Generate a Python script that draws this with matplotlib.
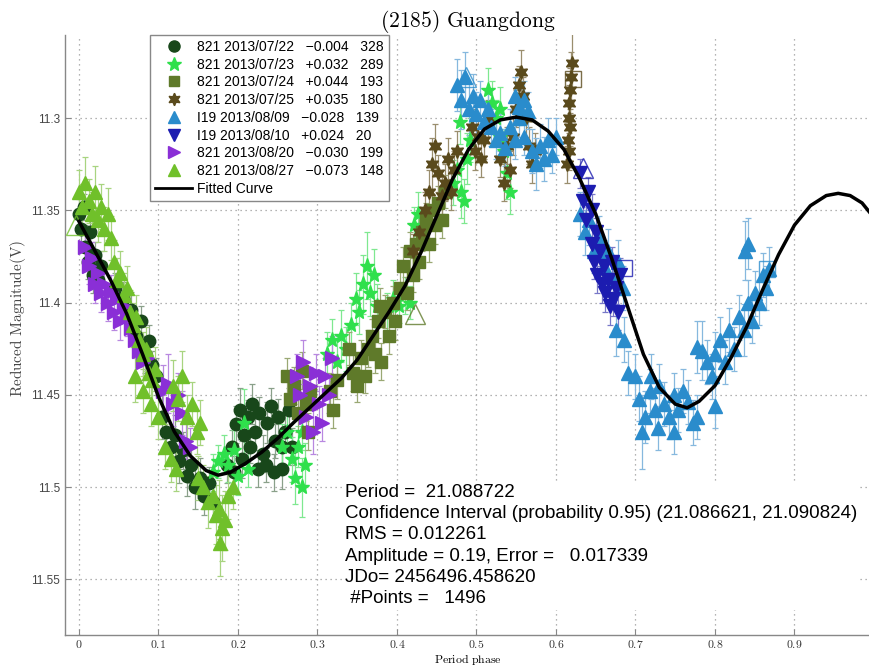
import matplotlib
matplotlib.use("Agg")
import matplotlib.pyplot as plt
from matplotlib.lines import Line2D

plt.rcParams["mathtext.fontset"] = "cm"

# ---------------- data (phase, reduced magnitude, error) ----------------
s0722 = [(0.000, 11.352, 0.008), (0.003, 11.360, 0.010), (0.006, 11.348, 0.007), (0.008, 11.370, 0.012),
         (0.011, 11.378, 0.009), (0.014, 11.362, 0.008), (0.017, 11.385, 0.010), (0.020, 11.374, 0.007),
         (0.024, 11.388, 0.009), (0.028, 11.380, 0.008), (0.045, 11.392, 0.008), (0.055, 11.398, 0.009),
         (0.065, 11.404, 0.010), (0.072, 11.418, 0.009), (0.078, 11.410, 0.008), (0.083, 11.428, 0.010),
         (0.088, 11.421, 0.009), (0.092, 11.434, 0.008), (0.097, 11.440, 0.010), (0.104, 11.462, 0.012),
         (0.110, 11.470, 0.010), (0.116, 11.478, 0.009), (0.121, 11.472, 0.011), (0.126, 11.486, 0.012),
         (0.131, 11.480, 0.010), (0.136, 11.494, 0.011), (0.141, 11.488, 0.010), (0.146, 11.500, 0.012),
         (0.152, 11.495, 0.011), (0.157, 11.505, 0.010), (0.163, 11.498, 0.009), (0.168, 11.508, 0.010),
         (0.186, 11.488, 0.010), (0.192, 11.478, 0.009), (0.198, 11.466, 0.010), (0.203, 11.458, 0.012),
         (0.208, 11.472, 0.010), (0.213, 11.462, 0.009), (0.218, 11.455, 0.011), (0.222, 11.470, 0.010),
         (0.227, 11.460, 0.009), (0.232, 11.482, 0.010), (0.236, 11.465, 0.011), (0.241, 11.456, 0.010),
         (0.246, 11.475, 0.009), (0.250, 11.462, 0.010), (0.255, 11.490, 0.011), (0.259, 11.470, 0.010),
         (0.264, 11.458, 0.012), (0.268, 11.478, 0.010), (0.195, 11.492, 0.009), (0.205, 11.485, 0.010),
         (0.215, 11.478, 0.009), (0.225, 11.490, 0.010), (0.235, 11.488, 0.009), (0.245, 11.492, 0.010),
         (0.255, 11.478, 0.009)]

s0723 = [(0.168, 11.492, 0.010), (0.175, 11.486, 0.009), (0.182, 11.482, 0.010), (0.188, 11.488, 0.009),
         (0.195, 11.480, 0.011), (0.200, 11.494, 0.010), (0.207, 11.465, 0.018), (0.213, 11.490, 0.010),
         (0.255, 11.478, 0.012), (0.262, 11.470, 0.010), (0.268, 11.485, 0.012), (0.272, 11.495, 0.014),
         (0.276, 11.478, 0.011), (0.280, 11.500, 0.016), (0.284, 11.488, 0.012), (0.280, 11.470, 0.010),
         (0.312, 11.428, 0.012), (0.318, 11.420, 0.011), (0.324, 11.432, 0.012), (0.330, 11.418, 0.014),
         (0.336, 11.425, 0.012), (0.342, 11.412, 0.012), (0.348, 11.398, 0.014), (0.352, 11.405, 0.012),
         (0.357, 11.390, 0.016), (0.362, 11.380, 0.018), (0.366, 11.395, 0.012), (0.371, 11.385, 0.014),
         (0.375, 11.402, 0.012), (0.388, 11.405, 0.010), (0.395, 11.398, 0.010), (0.402, 11.402, 0.009),
         (0.410, 11.396, 0.010), (0.416, 11.400, 0.009), (0.422, 11.358, 0.010), (0.426, 11.352, 0.012),
         (0.470, 11.335, 0.012), (0.476, 11.328, 0.012), (0.480, 11.340, 0.014), (0.484, 11.345, 0.012),
         (0.488, 11.322, 0.014), (0.492, 11.312, 0.012), (0.479, 11.302, 0.012), (0.515, 11.285, 0.012),
         (0.520, 11.292, 0.012), (0.525, 11.300, 0.010), (0.530, 11.295, 0.012), (0.534, 11.318, 0.012),
         (0.538, 11.330, 0.014), (0.542, 11.340, 0.012), (0.530, 11.310, 0.010)]

s0724 = [(0.262, 11.440, 0.010), (0.266, 11.452, 0.009), (0.270, 11.445, 0.010), (0.275, 11.460, 0.010),
         (0.280, 11.437, 0.010), (0.285, 11.455, 0.009), (0.290, 11.448, 0.010), (0.288, 11.470, 0.010),
         (0.316, 11.448, 0.010), (0.320, 11.458, 0.010), (0.325, 11.442, 0.010), (0.340, 11.425, 0.009),
         (0.345, 11.438, 0.010), (0.350, 11.445, 0.009), (0.355, 11.430, 0.010), (0.360, 11.440, 0.009),
         (0.363, 11.425, 0.010), (0.368, 11.418, 0.009), (0.372, 11.428, 0.010), (0.376, 11.410, 0.009),
         (0.380, 11.432, 0.010), (0.385, 11.405, 0.009), (0.390, 11.418, 0.010), (0.395, 11.400, 0.009),
         (0.398, 11.410, 0.010), (0.379, 11.402, 0.010), (0.404, 11.392, 0.009), (0.408, 11.380, 0.010),
         (0.412, 11.395, 0.009), (0.416, 11.372, 0.010), (0.420, 11.385, 0.009), (0.424, 11.368, 0.010),
         (0.428, 11.378, 0.009), (0.432, 11.362, 0.010), (0.436, 11.355, 0.009), (0.440, 11.368, 0.010),
         (0.444, 11.350, 0.009), (0.448, 11.358, 0.010), (0.452, 11.346, 0.009), (0.456, 11.355, 0.010),
         (0.460, 11.340, 0.009)]

s0725 = [(0.420, 11.372, 0.009), (0.428, 11.362, 0.009), (0.435, 11.350, 0.010), (0.440, 11.340, 0.012),
         (0.444, 11.325, 0.014), (0.448, 11.315, 0.012), (0.452, 11.330, 0.010), (0.456, 11.342, 0.010),
         (0.460, 11.335, 0.010), (0.464, 11.322, 0.011), (0.468, 11.340, 0.010), (0.472, 11.328, 0.010),
         (0.476, 11.318, 0.011), (0.494, 11.305, 0.010), (0.498, 11.318, 0.010), (0.502, 11.310, 0.010),
         (0.506, 11.322, 0.010), (0.510, 11.312, 0.010), (0.514, 11.300, 0.010), (0.530, 11.322, 0.010),
         (0.534, 11.335, 0.010), (0.538, 11.315, 0.010), (0.542, 11.328, 0.010), (0.546, 11.310, 0.010),
         (0.550, 11.295, 0.010), (0.553, 11.282, 0.010), (0.556, 11.275, 0.012), (0.559, 11.288, 0.010),
         (0.562, 11.300, 0.010), (0.566, 11.315, 0.010), (0.570, 11.325, 0.010), (0.574, 11.318, 0.010),
         (0.614, 11.325, 0.010), (0.615, 11.312, 0.010), (0.616, 11.300, 0.010), (0.617, 11.292, 0.010),
         (0.618, 11.285, 0.012), (0.619, 11.278, 0.014), (0.620, 11.270, 0.016), (0.618, 11.305, 0.010),
         (0.617, 11.318, 0.010)]

s0809 = [(0.475, 11.282, 0.014), (0.480, 11.290, 0.016), (0.486, 11.278, 0.014), (0.490, 11.295, 0.014),
         (0.495, 11.288, 0.012), (0.500, 11.298, 0.012), (0.505, 11.290, 0.010), (0.510, 11.302, 0.010),
         (0.515, 11.295, 0.010), (0.518, 11.305, 0.010), (0.524, 11.312, 0.010), (0.530, 11.308, 0.010),
         (0.536, 11.316, 0.010), (0.542, 11.305, 0.010), (0.548, 11.312, 0.010), (0.554, 11.300, 0.010),
         (0.560, 11.310, 0.010), (0.548, 11.288, 0.010), (0.554, 11.294, 0.010), (0.560, 11.290, 0.010),
         (0.565, 11.296, 0.010), (0.570, 11.318, 0.012), (0.575, 11.325, 0.014), (0.580, 11.315, 0.012),
         (0.585, 11.322, 0.012), (0.590, 11.312, 0.012), (0.595, 11.320, 0.010), (0.600, 11.310, 0.010),
         (0.630, 11.352, 0.012), (0.636, 11.362, 0.012), (0.642, 11.355, 0.014), (0.648, 11.372, 0.012),
         (0.654, 11.365, 0.012), (0.660, 11.380, 0.014), (0.666, 11.372, 0.012), (0.672, 11.388, 0.012),
         (0.678, 11.378, 0.012), (0.684, 11.392, 0.012), (0.675, 11.415, 0.014), (0.685, 11.420, 0.012),
         (0.690, 11.438, 0.012), (0.700, 11.440, 0.012), (0.705, 11.452, 0.012), (0.712, 11.462, 0.014),
         (0.718, 11.448, 0.012), (0.724, 11.458, 0.012), (0.730, 11.445, 0.012), (0.736, 11.455, 0.012),
         (0.742, 11.462, 0.012), (0.748, 11.450, 0.012), (0.754, 11.458, 0.012), (0.760, 11.448, 0.012),
         (0.766, 11.454, 0.012), (0.772, 11.465, 0.012), (0.708, 11.470, 0.020), (0.728, 11.468, 0.012),
         (0.748, 11.470, 0.012), (0.778, 11.462, 0.012), (0.720, 11.440, 0.012), (0.778, 11.424, 0.014),
         (0.784, 11.426, 0.016), (0.790, 11.432, 0.012), (0.796, 11.440, 0.012), (0.800, 11.456, 0.012),
         (0.800, 11.428, 0.012), (0.806, 11.420, 0.012), (0.812, 11.432, 0.012), (0.818, 11.415, 0.012),
         (0.824, 11.425, 0.012), (0.830, 11.408, 0.012), (0.836, 11.415, 0.014), (0.842, 11.400, 0.012),
         (0.846, 11.410, 0.012), (0.850, 11.395, 0.012), (0.856, 11.400, 0.012), (0.860, 11.385, 0.012),
         (0.864, 11.392, 0.012), (0.868, 11.382, 0.012), (0.838, 11.372, 0.016), (0.842, 11.368, 0.014)]

s0810 = [(0.630, 11.330, 0.008), (0.634, 11.345, 0.008), (0.640, 11.340, 0.008), (0.645, 11.350, 0.009),
         (0.650, 11.362, 0.008), (0.645, 11.368, 0.009), (0.655, 11.372, 0.008), (0.660, 11.380, 0.009),
         (0.652, 11.385, 0.010), (0.665, 11.388, 0.009), (0.670, 11.378, 0.008), (0.662, 11.395, 0.010),
         (0.668, 11.402, 0.010), (0.675, 11.392, 0.009), (0.680, 11.385, 0.009), (0.638, 11.355, 0.008),
         (0.648, 11.378, 0.009), (0.658, 11.390, 0.010), (0.672, 11.398, 0.009), (0.678, 11.405, 0.010)]

s0820 = [(0.008, 11.370, 0.010), (0.012, 11.380, 0.010), (0.016, 11.376, 0.009), (0.020, 11.390, 0.010),
         (0.024, 11.384, 0.009), (0.028, 11.395, 0.010), (0.032, 11.390, 0.009), (0.036, 11.400, 0.010),
         (0.040, 11.394, 0.009), (0.044, 11.405, 0.010), (0.048, 11.398, 0.009), (0.052, 11.410, 0.010),
         (0.056, 11.402, 0.009), (0.060, 11.408, 0.010), (0.065, 11.414, 0.009), (0.070, 11.420, 0.010),
         (0.075, 11.426, 0.009), (0.080, 11.432, 0.010), (0.085, 11.430, 0.009), (0.106, 11.448, 0.014),
         (0.112, 11.444, 0.016), (0.118, 11.455, 0.012), (0.124, 11.450, 0.012), (0.130, 11.460, 0.012),
         (0.134, 11.475, 0.010), (0.140, 11.478, 0.010), (0.274, 11.440, 0.012), (0.278, 11.450, 0.010),
         (0.282, 11.432, 0.012), (0.286, 11.462, 0.010), (0.290, 11.445, 0.010), (0.294, 11.470, 0.012),
         (0.298, 11.438, 0.010), (0.302, 11.455, 0.010), (0.306, 11.465, 0.010), (0.310, 11.440, 0.010),
         (0.314, 11.450, 0.010), (0.318, 11.430, 0.012)]

s0827 = [(0.000, 11.340, 0.012), (0.004, 11.348, 0.012), (0.008, 11.335, 0.014), (0.012, 11.345, 0.012),
         (0.016, 11.352, 0.012), (0.020, 11.340, 0.014), (0.024, 11.355, 0.012), (0.028, 11.348, 0.012),
         (0.032, 11.360, 0.012), (0.036, 11.352, 0.014), (0.040, 11.365, 0.012), (0.044, 11.378, 0.012),
         (0.048, 11.388, 0.012), (0.052, 11.384, 0.012), (0.056, 11.396, 0.012), (0.060, 11.392, 0.012),
         (0.064, 11.405, 0.012), (0.068, 11.412, 0.012), (0.072, 11.408, 0.012), (0.076, 11.420, 0.012),
         (0.080, 11.428, 0.012), (0.084, 11.425, 0.012), (0.088, 11.438, 0.012), (0.092, 11.442, 0.012),
         (0.096, 11.436, 0.012), (0.070, 11.440, 0.014), (0.080, 11.448, 0.012), (0.090, 11.455, 0.012),
         (0.100, 11.462, 0.012), (0.108, 11.478, 0.012), (0.116, 11.485, 0.012), (0.122, 11.490, 0.012),
         (0.118, 11.445, 0.014), (0.124, 11.452, 0.012), (0.130, 11.440, 0.014), (0.136, 11.462, 0.012),
         (0.142, 11.455, 0.012), (0.148, 11.470, 0.012), (0.152, 11.465, 0.012), (0.150, 11.495, 0.012),
         (0.156, 11.500, 0.012), (0.162, 11.508, 0.014), (0.168, 11.505, 0.014), (0.172, 11.515, 0.016),
         (0.176, 11.512, 0.016), (0.180, 11.522, 0.018), (0.184, 11.518, 0.016), (0.178, 11.530, 0.018),
         (0.188, 11.505, 0.012), (0.194, 11.500, 0.012)]

series_data = [s0722, s0723, s0724, s0725, s0809, s0810, s0820, s0827]
series_labels = ["821 2013/07/22   \u22120.004   328",
                 "821 2013/07/23   +0.032   289",
                 "821 2013/07/24   +0.044   193",
                 "821 2013/07/25   +0.035   180",
                 "I19 2013/08/09   \u22120.028   139",
                 "I19 2013/08/10   +0.024   20",
                 "821 2013/08/20   \u22120.030   199",
                 "821 2013/08/27   \u22120.073   148"]

# hollow (first-point) markers: (phase, magnitude, series index)
hollow_triangles = [(-0.004, 11.358, 7), (0.487, 11.278, 4), (0.634, 11.327, 5), (0.423, 11.406, 2)]
hollow_squares = [(0.621, 11.279, 3), (0.685, 11.381, 5), (0.865, 11.382, 4)]

curve_phase = [0.000, 0.020, 0.040, 0.060, 0.080, 0.100, 0.120, 0.140, 0.160, 0.175, 0.190, 0.210,
               0.230, 0.250, 0.270, 0.290, 0.310, 0.330, 0.350, 0.370, 0.390, 0.410, 0.430, 0.450,
               0.470, 0.490, 0.510, 0.530, 0.550, 0.570, 0.590, 0.610, 0.630, 0.650, 0.670, 0.690,
               0.710, 0.730, 0.750, 0.765, 0.780, 0.800, 0.820, 0.840, 0.860, 0.880, 0.900, 0.920,
               0.940, 0.955, 0.970, 0.985, 1.000]
curve_mag = [11.356, 11.372, 11.388, 11.406, 11.428, 11.451, 11.470, 11.483, 11.491, 11.4935, 11.492, 11.487,
             11.481, 11.4735, 11.465, 11.457, 11.449, 11.441, 11.431, 11.418, 11.405, 11.391, 11.373, 11.353,
             11.333, 11.317, 11.306, 11.301, 11.2995, 11.301, 11.307, 11.317, 11.333, 11.352, 11.376, 11.402,
             11.428, 11.446, 11.455, 11.457, 11.4535, 11.445, 11.430, 11.413, 11.393, 11.374, 11.358, 11.3475,
             11.342, 11.3408, 11.342, 11.346, 11.354]

xticks = [0, 0.1, 0.2, 0.3, 0.4, 0.5, 0.6, 0.7, 0.8, 0.9]
xtick_labels = ["0", "0.1", "0.2", "0.3", "0.4", "0.5", "0.6", "0.7", "0.8", "0.9"]
yticks = [11.3, 11.35, 11.4, 11.45, 11.5, 11.55]
ytick_labels = ["11.3", "11.35", "11.4", "11.45", "11.5", "11.55"]

info_lines = ["Period =  21.088722",
              "Confidence Interval (probability 0.95) (21.086621, 21.090824)",
              "RMS = 0.012261",
              "Amplitude = 0.19, Error =   0.017339",
              "JDo= 2456496.458620",
              " #Points =   1496"]

# ---------------- styles ----------------
colors = ["#18471a", "#2fe04c", "#5f7a2a", "#5a4a1c", "#2a8ccc", "#1c1cb0", "#8a2fd6", "#70c02a"]
ecolors = ["#8aa08a", "#7fe890", "#9aa874", "#9a8e6e", "#86b8de", "#7878c8", "#b888e0", "#a8d480"]
markers = ["o", "*", "s", (6, 1, 0), "^", "v", ">", "^"]
msizes = [9, 11, 8, 10, 10, 10, 10, 10]

fig = plt.figure(figsize=(8.7, 6.66), dpi=100)
ax = fig.add_axes([65 / 870, 31 / 666, 805 / 870, 600 / 666])

for i, data in enumerate(series_data):
    ph = [d[0] for d in data]
    mg = [d[1] for d in data]
    er = [d[2] for d in data]
    ax.errorbar(ph, mg, yerr=er, fmt="none", ecolor=ecolors[i], elinewidth=0.9,
                capsize=2.5, capthick=0.9, zorder=2 + i * 0.1)
for i, data in enumerate(series_data):
    ph = [d[0] for d in data]
    mg = [d[1] for d in data]
    ax.plot(ph, mg, linestyle="none", marker=markers[i], markersize=msizes[i],
            color=colors[i], markeredgecolor=colors[i], zorder=3 + i * 0.1)

for p, m, k in hollow_triangles:
    ax.plot([p], [m], linestyle="none", marker="^", markersize=15, markerfacecolor="none",
            markeredgecolor=colors[k], markeredgewidth=1.0, alpha=0.8, zorder=4)
for p, m, k in hollow_squares:
    ax.plot([p], [m], linestyle="none", marker="s", markersize=12, markerfacecolor="none",
            markeredgecolor=colors[k], markeredgewidth=1.0, alpha=0.8, zorder=4)

ax.plot(curve_phase, curve_mag, color="black", linewidth=2.5, zorder=6)

ax.set_xlim(-0.0176, 0.995)
ax.set_ylim(11.5801, 11.255)

ax.set_xticks(xticks)
ax.set_xticklabels([r"$\mathrm{%s}$" % t for t in xtick_labels], fontsize=8.5, color="#333333")
ax.set_yticks(yticks)
ax.set_yticklabels(ytick_labels, family="Liberation Sans", fontsize=8.5, color="#444444")
ax.tick_params(direction="in", length=4, color="#888888", width=0.8)
ax.tick_params(axis="x", pad=2)
ax.grid(True, linestyle=(0, (1, 3)), color="#9a9a9a", linewidth=0.9)
ax.set_axisbelow(True)
for s in ["top", "right"]:
    ax.spines[s].set_visible(False)
for s in ["left", "bottom"]:
    ax.spines[s].set_color("#888888")
    ax.spines[s].set_linewidth(1.0)

ax.set_title(r"$\mathrm{(2185)\ Guangdong}$", fontsize=15.5, pad=6)
ax.set_xlabel(r"$\mathrm{Period\ phase}$", fontsize=8.5)
ax.xaxis.set_label_coords(0.5, -0.0283)
ax.set_ylabel(r"$\mathrm{Reduced\ Magnitude(V)}$", fontsize=11, color="#444444")
ax.yaxis.set_label_coords(-0.046, 0.527)

handles = [Line2D([], [], linestyle="none", marker=markers[i], markersize=msizes[i] - 1,
                  color=colors[i]) for i in range(len(series_data))]
handles.append(Line2D([], [], color="black", linewidth=2))
labels = series_labels + ["Fitted Curve"]
leg = ax.legend(handles, labels, loc="upper left", bbox_to_anchor=(0.1056, 1.0),
                borderaxespad=0.0,
                prop={"family": "Liberation Sans", "size": 10}, labelspacing=0.27,
                handlelength=2.7, handletextpad=0.36, borderpad=0.35, fancybox=False,
                edgecolor="#888888", framealpha=1.0)
leg.get_frame().set_linewidth(1.0)
leg.set_zorder(10)

ax.text(0.348, 0.252, "\n".join(info_lines), transform=ax.transAxes, va="top", ha="left",
        family="Liberation Sans", fontsize=13.5, linespacing=1.33, zorder=8,
        bbox=dict(facecolor="white", edgecolor="none", pad=2))

fig.savefig("out.png", dpi=100)
